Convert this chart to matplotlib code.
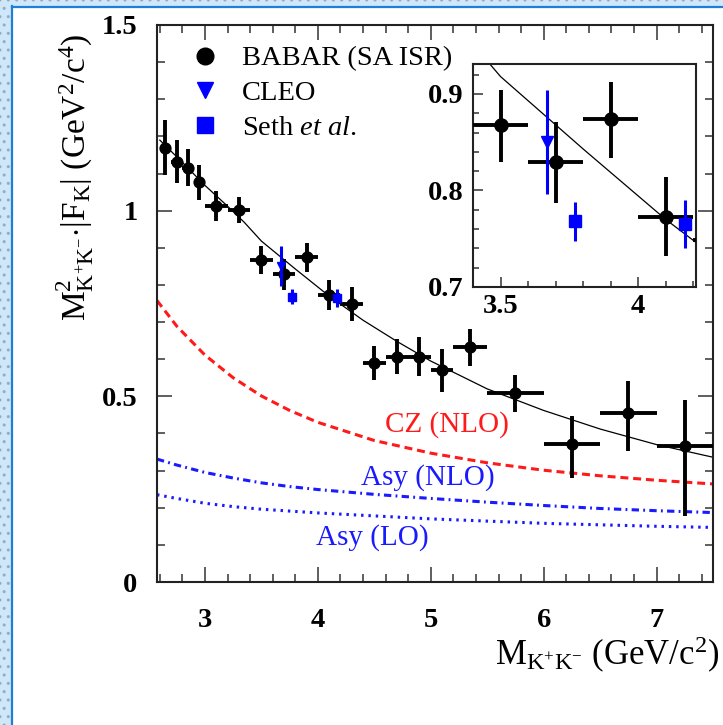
import numpy as np
import matplotlib
matplotlib.use('Agg')
import matplotlib.pyplot as plt
from matplotlib.lines import Line2D
from matplotlib.patches import Rectangle
from matplotlib.ticker import MultipleLocator, FuncFormatter

plt.rcParams['font.family'] = 'serif'
plt.rcParams['font.serif'] = ['Liberation Serif', 'DejaVu Serif']
plt.rcParams['mathtext.fontset'] = 'custom'
plt.rcParams['mathtext.rm'] = 'Liberation Serif'
plt.rcParams['mathtext.it'] = 'Liberation Serif:italic'
plt.rcParams['mathtext.bf'] = 'Liberation Serif:bold'

# BABAR (SA ISR) points
babar_x = [2.65, 2.75, 2.85, 2.95, 3.1, 3.3, 3.5, 3.7, 3.9, 4.1,
           4.3, 4.5, 4.7, 4.9, 5.1, 5.35, 5.75, 6.25, 6.75, 7.25]
babar_xerr = [0.05, 0.05, 0.05, 0.05, 0.1, 0.1, 0.1, 0.1, 0.1, 0.1,
              0.1, 0.1, 0.1, 0.1, 0.1, 0.15, 0.25, 0.25, 0.25, 0.25]
babar_y = [1.170, 1.132, 1.116, 1.076, 1.013, 1.003, 0.868, 0.830, 0.874, 0.773,
           0.749, 0.589, 0.607, 0.607, 0.570, 0.632, 0.508, 0.372, 0.456, 0.367]
babar_err_lo = [0.075, 0.058, 0.049, 0.048, 0.040, 0.035, 0.038, 0.043, 0.040, 0.041,
                0.045, 0.046, 0.048, 0.052, 0.057, 0.049, 0.049, 0.092, 0.102, 0.188]
babar_err_hi = [0.075, 0.058, 0.049, 0.048, 0.040, 0.035, 0.036, 0.041, 0.038, 0.041,
                0.045, 0.046, 0.048, 0.052, 0.057, 0.049, 0.049, 0.074, 0.084, 0.122]

# CLEO and Seth et al.
cleo_x = [3.67]
cleo_y = [0.850]
cleo_err = [0.054]
seth_x = [3.772, 4.17]
seth_y = [0.768, 0.765]
seth_err = [0.020, 0.025]

# fit curve
fit_x = [2.6, 2.8, 3.0, 3.2, 3.35, 3.5, 3.8, 4.1, 4.4, 4.7, 5.0, 5.5, 6.0, 6.5, 7.0, 7.5]
fit_y = [1.19, 1.13, 1.068, 1.012, 0.968, 0.918, 0.843, 0.770, 0.705, 0.648, 0.595,
         0.520, 0.462, 0.412, 0.370, 0.336]

# theory curves
th_x = [2.575, 2.75, 3.0, 3.25, 3.5, 3.75, 4.0, 4.5, 5.0, 5.5, 6.0, 6.5, 7.0, 7.5]
cz_nlo = [0.758, 0.689, 0.611, 0.550, 0.501, 0.462, 0.430, 0.381, 0.347, 0.321,
          0.301, 0.286, 0.274, 0.264]
asy_nlo = [0.331, 0.315, 0.295, 0.280, 0.267, 0.257, 0.249, 0.236, 0.225, 0.215,
           0.206, 0.198, 0.192, 0.187]
asy_lo = [0.235, 0.225, 0.212, 0.203, 0.196, 0.191, 0.186, 0.178, 0.170, 0.164,
          0.158, 0.154, 0.150, 0.147]

W, H = 723, 725
fig = plt.figure(figsize=(W / 100, H / 100), dpi=100)
fig.patch.set_facecolor('white')

# slide frame on the left and top
for (x0, y0, w, h) in [(0, 0, 11 / W, 1), (0, 1 - 6 / H, 1, 6 / H)]:
    fig.patches.append(Rectangle((x0, y0), w, h, transform=fig.transFigure,
                                 facecolor='#cfe7fb', edgecolor='#9aabb8',
                                 hatch='..', lw=0, zorder=0))
fig.lines.append(Line2D([12 / W, 12 / W], [0, 1 - 6 / H], transform=fig.transFigure,
                        color='#1f7fd6', lw=1.6))
fig.lines.append(Line2D([12 / W, 1], [1 - 7 / H, 1 - 7 / H], transform=fig.transFigure,
                        color='#1f7fd6', lw=1.6))

ax = fig.add_axes([157 / W, 1 - 582 / H, 556 / W, 557 / H])
ax.set_xlim(2.575, 7.5)
ax.set_ylim(0, 1.5)


def style_axes(a, major_len, minor_len, pad, size, both_sides=True):
    for s in a.spines.values():
        s.set_linewidth(1.5)
        s.set_color('#222222')
    a.tick_params(which='both', direction='in', top=both_sides, right=both_sides,
                  width=1.1, color='#333333', labelsize=size, pad=pad)
    a.tick_params(which='major', length=major_len)
    a.tick_params(which='minor', length=minor_len)


style_axes(ax, 10.5, 5.5, 14, 20.5)
ax.tick_params(axis='x', which='both', pad=19)
ax.xaxis.set_major_locator(MultipleLocator(1))
ax.xaxis.set_minor_locator(MultipleLocator(0.2))
ax.yaxis.set_major_locator(MultipleLocator(0.5))
ax.yaxis.set_minor_locator(MultipleLocator(0.1))
ax.xaxis.set_major_formatter(FuncFormatter(lambda v, p: '%g' % v))
ax.yaxis.set_major_formatter(FuncFormatter(lambda v, p: '%g' % v))
for lbl in ax.get_xticklabels() + ax.get_yticklabels():
    lbl.set_fontweight('bold')

# theory curves
ax.plot(th_x, cz_nlo, color='#ff1a1a', lw=2.2, ls=(0, (2.6, 1.6)))
ax.plot(th_x, asy_nlo, color='#1a1aff', lw=2.2, ls=(0, (2.4, 1.4, 0.6, 1.4)))
ax.plot(th_x, asy_lo, color='#1a1aff', lw=2.2, ls=(0, (0.8, 1.6)))
ax.text(5.14, 0.423, 'CZ (NLO)', color='#ff1a1a', fontsize=21, ha='center', va='center')
ax.text(4.97, 0.280, 'Asy (NLO)', color='#1a1aff', fontsize=21, ha='center', va='center')
ax.text(4.48, 0.121, 'Asy (LO)', color='#1a1aff', fontsize=21, ha='center', va='center')

# fit
ax.plot(fit_x, fit_y, color='black', lw=0.9)


def draw_points(a, ms_b, ms_c, ms_s):
    a.errorbar(babar_x, babar_y, xerr=babar_xerr, yerr=[babar_err_lo, babar_err_hi],
               fmt='o', color='black', ms=ms_b, elinewidth=2.8, capsize=0, zorder=3)
    a.errorbar(cleo_x, cleo_y, yerr=cleo_err, fmt='v', color='#0000ff', ms=ms_c,
               elinewidth=2.2, capsize=0, zorder=4)
    a.errorbar(seth_x, seth_y, yerr=seth_err, fmt='s', color='#0000ff', ms=ms_s,
               elinewidth=2.2, capsize=0, zorder=4)


draw_points(ax, 7.8, 6, 5.5)

handles = [Line2D([], [], ls='none', marker='o', color='black', ms=12),
           Line2D([], [], ls='none', marker='v', color='#0000ff', ms=11),
           Line2D([], [], ls='none', marker='s', color='#0000ff', ms=11)]
ax.legend(handles, ['BABAR (SA ISR)', 'CLEO', r'Seth $\mathit{et\ al.}$'],
          loc='upper left', bbox_to_anchor=(0.0608, 0.963), frameon=False,
          fontsize=20.5, handlelength=1.0, handletextpad=0.8, borderpad=0,
          borderaxespad=0, labelspacing=0.31)

fig.text(75 / W, 1 - 177 / H,
         r'M$^{2}_{\mathrm{K^{+}K^{-}}}$$\cdot$|F$_{\mathrm{K}}$| (GeV$^{2}$/c$^{4}$)',
         rotation=90, ha='center', va='center', fontsize=24)
fig.text(719 / W, 1 - 665 / H,
         r'M$_{\mathrm{K^{+}K^{-}}}$ (GeV/c$^{2}$)',
         ha='right', va='baseline', fontsize=25)

# inset zoom
axi = fig.add_axes([473 / W, 1 - 287 / H, 223 / W, 223 / H])
axi.set_facecolor('white')
axi.set_xlim(3.4, 4.21)
axi.set_ylim(0.7, 0.931)
style_axes(axi, 7, 4, 7, 20.5, both_sides=False)
axi.tick_params(axis='x', which='both', pad=5)
axi.xaxis.set_major_locator(MultipleLocator(0.5))
axi.xaxis.set_minor_locator(MultipleLocator(0.1))
axi.yaxis.set_major_locator(MultipleLocator(0.1))
axi.yaxis.set_minor_locator(MultipleLocator(0.02))
axi.xaxis.set_major_formatter(FuncFormatter(lambda v, p: '%g' % v))
axi.yaxis.set_major_formatter(FuncFormatter(lambda v, p: '%g' % v))
for lbl in axi.get_xticklabels() + axi.get_yticklabels():
    lbl.set_fontweight('bold')
axi.plot(fit_x, fit_y, color='black', lw=0.9)
draw_points(axi, 9.5, 8, 8.5)

fig.savefig('out.png', dpi=100)
